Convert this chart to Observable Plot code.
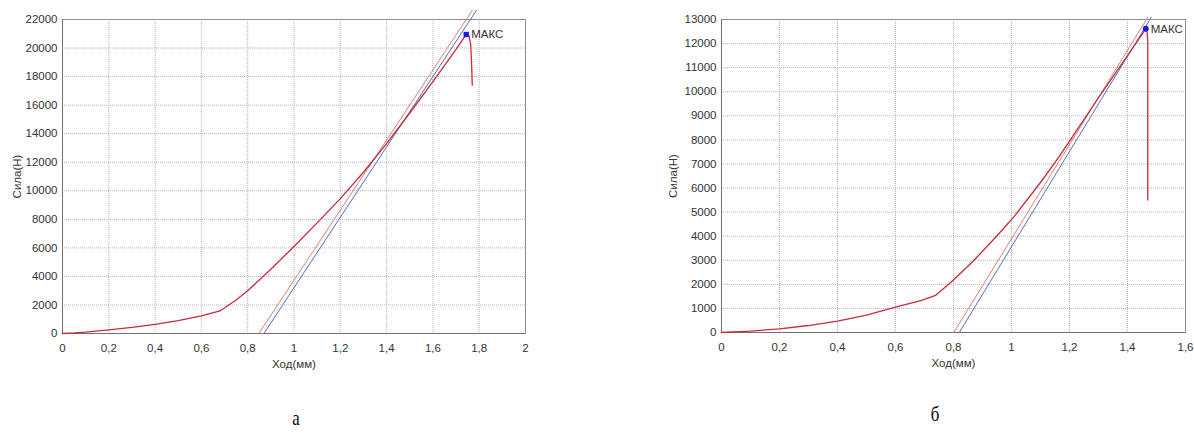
<!DOCTYPE html>
<html>
<head>
<meta charset="utf-8">
<script src="https://cdn.jsdelivr.net/npm/d3@7"></script>
<script src="https://cdn.jsdelivr.net/npm/@observablehq/plot@0.6"></script>
<style>
  html, body { margin: 0; padding: 0; background: #fff; }
  #wrap { position: relative; width: 1194px; height: 439px; overflow: hidden; background: #fff; }
  .chart { position: absolute; top: 0; }
  .cap { position: absolute; font-family: "Liberation Serif", "Times New Roman", serif; font-size: 21px; color: #000; transform: translateX(-50%) scaleX(0.8); line-height: 1; }
</style>
</head>
<body>
<div id="wrap">
  <div id="chartA" class="chart" style="left:0px"></div>
  <div id="chartB" class="chart" style="left:640px"></div>
  <div class="cap" style="left:296px; top:408px">а</div>
  <div class="cap" style="left:935px; top:404px">б</div>
</div>
<script>
// ---------- Chart а ----------
const xTicksA = [0, 0.2, 0.4, 0.6, 0.8, 1, 1.2, 1.4, 1.6, 1.8, 2];
const yTicksA = [0, 2000, 4000, 6000, 8000, 10000, 12000, 14000, 16000, 18000, 20000, 22000];
const curveA_x = [0, 0.05, 0.1, 0.2, 0.3, 0.4, 0.5, 0.6, 0.68, 0.75, 0.8, 0.9, 1.0, 1.1, 1.2, 1.3, 1.4, 1.5, 1.6, 1.7, 1.744, 1.755, 1.763, 1.767, 1.770];
const curveA_y = [0, 40, 100, 260, 430, 640, 900, 1230, 1580, 2350, 3000, 4500, 6100, 7750, 9450, 11300, 13300, 15450, 17650, 19900, 20950, 20900, 20300, 19000, 17400];
const tangentA_x = [0.848, 1.770];
const tangentA_y = [0, 22640];
const offsetA_x = [0.870, 1.788];
const offsetA_y = [0, 22640];
const maxA_x = [1.744];
const maxA_y = [20950];

// ---------- Chart б ----------
const xTicksB = [0, 0.2, 0.4, 0.6, 0.8, 1, 1.2, 1.4, 1.6];
const yTicksB = [0, 1000, 2000, 3000, 4000, 5000, 6000, 7000, 8000, 9000, 10000, 11000, 12000, 13000];
const curveB_x = [0, 0.1, 0.2, 0.3, 0.4, 0.5, 0.6, 0.69, 0.738, 0.8, 0.87, 0.951, 1.008, 1.1, 1.163, 1.2, 1.3, 1.4, 1.463, 1.468, 1.470, 1.470];
const curveB_y = [0, 60, 150, 290, 470, 720, 1050, 1330, 1540, 2180, 2990, 4030, 4800, 6230, 7280, 7950, 9750, 11500, 12612, 12450, 12000, 5500];
const tangentB_x = [0.801, 1.470];
const tangentB_y = [0, 13094];
const offsetB_x = [0.820, 1.482];
const offsetB_y = [0, 13094];
const maxB_x = [1.463];
const maxB_y = [12612];

const maxLabel = "МАКС";
const xLabel = "Ход(мм)";
const yLabel = "Сила(Н)";

const zip = (xs, ys) => xs.map((x, i) => ({x, y: ys[i]}));
const fmtX = d => String(d).replace(".", ",");
const fmtY = d => String(d);

const curveColor = "#c52b3b";
const tangentColor = "#dc7f73";
const offsetColor = "#5a6cc6";
const gridStyle = {stroke: "#b4b4b4", strokeOpacity: 1, strokeDasharray: "1,1"};

function makeChart(o) {
  return Plot.plot({
    width: o.width, height: 380,
    marginLeft: o.ml, marginRight: o.mr, marginTop: 19, marginBottom: o.mb,
    x: {domain: o.xDomain},
    y: {domain: o.yDomain},
    style: {fontFamily: "'Liberation Sans', Arial, sans-serif", fontSize: "11.5px", color: "#333", overflow: "visible", background: "transparent"},
    marks: [
      Plot.gridX(o.xTicks, gridStyle),
      Plot.gridY(o.yTicks, gridStyle),
      Plot.frame({stroke: "#8f8f8f"}),
      Plot.ruleX([o.xDomain[0]], {stroke: "#707070"}),
      Plot.ruleY([o.yDomain[0]], {stroke: "#707070"}),
      Plot.axisX(o.xTicks, {tickSize: 0, tickPadding: 10, tickFormat: fmtX, label: xLabel, labelAnchor: "center", labelArrow: "none", labelOffset: 34, fontSize: 11.5}),
      Plot.axisY(o.yTicks, {tickSize: 0, tickPadding: 5, tickFormat: fmtY, label: yLabel, labelAnchor: "center", labelArrow: "none", labelOffset: o.lo, fontSize: 11.5}),
      Plot.line(o.tangent, {x: "x", y: "y", stroke: tangentColor, strokeWidth: 1}),
      Plot.line(o.offset, {x: "x", y: "y", stroke: offsetColor, strokeWidth: 1}),
      Plot.line(o.curve, {x: "x", y: "y", stroke: curveColor, strokeWidth: 1.3}),
      Plot.dot(o.max, {x: "x", y: "y", symbol: o.symbol, r: 3, fill: "#1a1ae6", stroke: "none"}),
      Plot.text(o.max, {x: "x", y: "y", text: () => maxLabel, textAnchor: "start", dx: 5, fontSize: 11.5, fill: "#333"})
    ]
  });
}

document.getElementById("chartA").append(makeChart({
  width: 560, ml: 62, mr: 35, mb: 47, lo: 50,
  xDomain: [0, 2], yDomain: [0, 22000],
  xTicks: xTicksA, yTicks: yTicksA,
  curve: zip(curveA_x, curveA_y),
  tangent: zip(tangentA_x, tangentA_y),
  offset: zip(offsetA_x, offsetA_y),
  max: zip(maxA_x, maxA_y),
  symbol: "square"
}));

document.getElementById("chartB").append(makeChart({
  width: 554, ml: 81, mr: 9, mb: 48, lo: 53,
  xDomain: [0, 1.6], yDomain: [0, 13000],
  xTicks: xTicksB, yTicks: yTicksB,
  curve: zip(curveB_x, curveB_y),
  tangent: zip(tangentB_x, tangentB_y),
  offset: zip(offsetB_x, offsetB_y),
  max: zip(maxB_x, maxB_y),
  symbol: "circle"
}));
</script>
</body>
</html>
